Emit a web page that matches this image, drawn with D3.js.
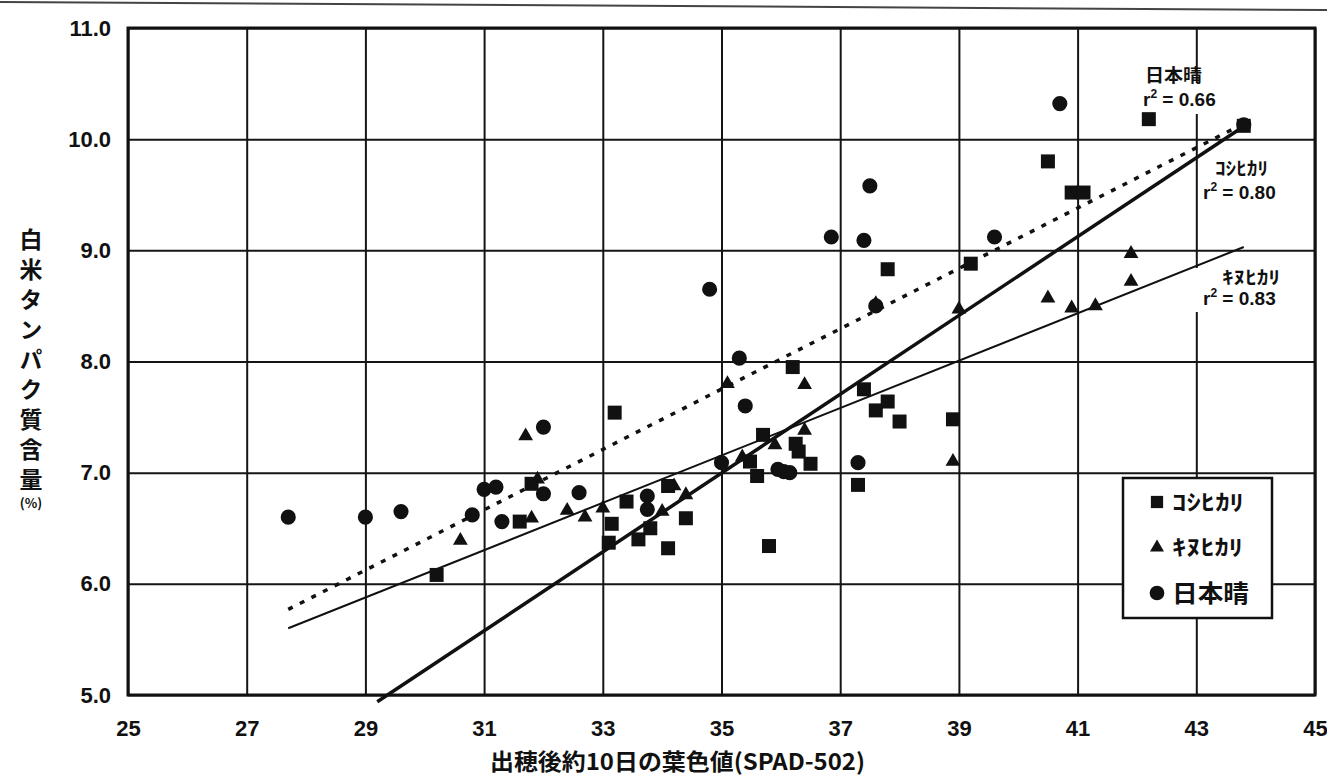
<!doctype html>
<meta charset="utf-8">
<style>
  body { margin: 0; background: #fff; }
  svg { display: block; }
  .axis text { font-family: "Liberation Sans", Arial, sans-serif; font-weight: bold; font-size: 22px; fill: #111; }
  .axis line { stroke: #151515; stroke-width: 2; }
  .jp { font-family: "Noto Sans CJK JP", sans-serif; font-weight: bold; fill: #111; }
  .lat { font-family: "Liberation Sans", Arial, sans-serif; font-weight: bold; fill: #111; }
  .vert { writing-mode: vertical-rl; }
</style>

<svg id="chart" width="1327" height="776"></svg>

<script src="https://d3js.org/d3.v7.min.js"></script>
<script>
  // tick labels
  const xTicks = [25, 27, 29, 31, 33, 35, 37, 39, 41, 43, 45];
  const yTicks = [5, 6, 7, 8, 9, 10, 11];

  // コシヒカリ (squares)
  const koshihikari = [
    [30.2,6.08],[31.6,6.56],[31.8,6.90],[33.1,6.37],[33.15,6.54],[33.2,7.54],[33.4,6.74],
    [33.6,6.40],[33.8,6.50],[34.1,6.32],[34.1,6.88],[34.4,6.59],[35.48,7.10],[35.6,6.97],
    [35.7,7.34],[35.8,6.34],[36.2,7.95],[36.25,7.26],[36.3,7.19],[36.5,7.08],[37.3,6.89],
    [37.4,7.75],[37.6,7.56],[37.8,7.64],[37.8,8.83],[38.0,7.46],[38.9,7.48],[39.2,8.88],
    [40.5,9.80],[40.9,9.52],[41.1,9.52],[42.2,10.18],[43.8,10.12]
  ];
  // キヌヒカリ (triangles)
  const kinuhikari = [
    [30.6,6.39],[31.7,7.33],[31.9,6.94],[31.8,6.59],[32.4,6.66],[32.7,6.60],[33.0,6.68],
    [34.0,6.65],[34.2,6.88],[34.4,6.80],[35.1,7.80],[35.35,7.14],[35.9,7.25],[36.4,7.38],
    [36.4,7.79],[37.6,8.52],[38.9,7.10],[39.0,8.47],[40.5,8.57],[40.9,8.48],[41.3,8.50],
    [41.9,8.72],[41.9,8.97]
  ];
  // 日本晴 (circles)
  const nipponbare = [
    [27.7,6.60],[29.0,6.60],[29.6,6.65],[30.8,6.62],[31.0,6.85],[31.2,6.87],[31.3,6.56],
    [32.0,7.41],[32.0,6.81],[32.6,6.82],[33.75,6.67],[33.75,6.79],[34.8,8.65],[35.0,7.09],
    [35.3,8.03],[35.4,7.60],[35.95,7.03],[36.05,7.01],[36.15,7.00],[36.85,9.12],[37.3,7.09],
    [37.4,9.09],[37.5,9.58],[37.6,8.50],[39.6,9.12],[40.7,10.32],[43.8,10.13]
  ];

  // regression line end points
  const fitKoshi = [[29.2,4.94],[43.7,10.08]];
  const fitKinu  = [[27.7,5.60],[43.8,9.03]];
  const fitNippon = [[27.7,5.77],[43.8,10.14]];

  let svg = d3.select("svg");
  let pLeft = 128, pRight = 1315, pTop = 28, pBottom = 695;

  let x = d3.scaleLinear().domain([25, 45]).range([pLeft, pRight]);
  let y = d3.scaleLinear().domain([5, 11]).range([pBottom, pTop]);

  // scan edge line at the top
  svg.append("line")
    .attr("x1", 0).attr("y1", 2).attr("x2", 1327).attr("y2", 10)
    .attr("stroke", "#444").attr("stroke-width", 2);

  // grid + tick labels
  svg.append("g")
    .attr("class", "axis")
    .attr("transform", `translate(0,${pBottom})`)
    .call(d3.axisBottom(x).tickValues(xTicks).tickSize(-(pBottom - pTop)).tickPadding(25).tickFormat(d3.format("d")))
    .call(g => g.select(".domain").remove());

  svg.append("g")
    .attr("class", "axis")
    .attr("transform", `translate(${pLeft},0)`)
    .call(d3.axisLeft(y).tickValues(yTicks).tickSize(-(pRight - pLeft)).tickPadding(17).tickFormat(d3.format(".1f")))
    .call(g => g.select(".domain").remove());

  // frame
  svg.append("rect")
    .attr("x", pLeft).attr("y", pTop)
    .attr("width", pRight - pLeft).attr("height", pBottom - pTop)
    .attr("fill", "none").attr("stroke", "#111").attr("stroke-width", 3);

  // white label backgrounds (they cut the grid)
  svg.append("rect").attr("x", 1140).attr("y", 83).attr("width", 84).attr("height", 31).attr("fill", "#fff");
  svg.append("rect").attr("x", 1190).attr("y", 268).attr("width", 94).attr("height", 44).attr("fill", "#fff");

  // regression lines
  let line = d3.line().x(d => x(d[0])).y(d => y(d[1]));
  svg.append("path").datum(fitKoshi).attr("d", line)
    .attr("stroke", "#111").attr("stroke-width", 3.5).attr("fill", "none");
  svg.append("path").datum(fitKinu).attr("d", line)
    .attr("stroke", "#111").attr("stroke-width", 2).attr("fill", "none");
  svg.append("path").datum(fitNippon).attr("d", line)
    .attr("stroke", "#111").attr("stroke-width", 3.5).attr("fill", "none")
    .attr("stroke-dasharray", "5 8");

  // points
  function plot(data, type, size) {
    svg.append("g").selectAll("path")
      .data(data)
      .enter()
      .append("path")
      .attr("transform", d => `translate(${x(d[0])},${y(d[1])})`)
      .attr("d", d3.symbol().type(type).size(size))
      .attr("fill", "#111");
  }
  plot(koshihikari, d3.symbolSquare, 196);
  plot(kinuhikari, d3.symbolTriangle, 95);
  plot(nipponbare, d3.symbolCircle, 180);

  // r2 annotations
  function r2(xp, yp, val) {
    let t = svg.append("text").attr("class", "lat").attr("x", xp).attr("y", yp)
      .attr("font-size", 19);
    t.append("tspan").text("r");
    t.append("tspan").attr("font-size", 12).attr("dy", -8).text("2");
    t.append("tspan").attr("dy", 8).text(" = " + val);
  }
  svg.append("text").attr("class", "jp").attr("x", 1145).attr("y", 82)
    .attr("font-size", 18).attr("textLength", 57).attr("lengthAdjust", "spacingAndGlyphs").text("日本晴");
  r2(1143, 106, "0.66");
  svg.append("text").attr("class", "jp").attr("x", 1215).attr("y", 175)
    .attr("font-size", 18).attr("textLength", 53).attr("lengthAdjust", "spacingAndGlyphs").text("ｺｼﾋｶﾘ");
  r2(1203, 199, "0.80");
  svg.append("text").attr("class", "jp").attr("x", 1222).attr("y", 284)
    .attr("font-size", 18).attr("textLength", 58).attr("lengthAdjust", "spacingAndGlyphs").text("ｷﾇﾋｶﾘ");
  r2(1203, 305, "0.83");

  // legend
  let legend = svg.append("g");
  legend.append("rect")
    .attr("x", 1123).attr("y", 478).attr("width", 149).attr("height", 140)
    .attr("fill", "#fff").attr("stroke", "#111").attr("stroke-width", 2.5);
  let legendItems = [
    { name: "ｺｼﾋｶﾘ", type: d3.symbolSquare, size: 150, len: 72, fs: 22 },
    { name: "ｷﾇﾋｶﾘ", type: d3.symbolTriangle, size: 85, len: 71, fs: 22 },
    { name: "日本晴", type: d3.symbolCircle, size: 170, len: 77, fs: 24 }
  ];
  legendItems.forEach((it, i) => {
    let cy = 502 + i * 45.5;
    legend.append("path")
      .attr("transform", `translate(1157,${cy})`)
      .attr("d", d3.symbol().type(it.type).size(it.size))
      .attr("fill", "#111");
    legend.append("text").attr("class", "jp")
      .attr("x", 1172).attr("y", cy + it.fs * 0.36)
      .attr("font-size", it.fs)
      .attr("textLength", it.len).attr("lengthAdjust", "spacingAndGlyphs")
      .text(it.name);
  });

  // axis titles
  svg.append("text").attr("class", "jp")
    .attr("x", 490).attr("y", 770)
    .attr("font-size", 23).attr("textLength", 375).attr("lengthAdjust", "spacingAndGlyphs")
    .text("出穂後約10日の葉色値(SPAD-502)");

  svg.append("text").attr("class", "jp vert")
    .attr("x", 31).attr("y", 228)
    .attr("font-size", 23)
    .attr("letter-spacing", 7)
    .text("白米タンパク質含量");
  svg.append("text").attr("class", "jp")
    .attr("x", 31).attr("y", 508)
    .attr("text-anchor", "middle").attr("font-size", 13)
    .text("(%)");
</script>
